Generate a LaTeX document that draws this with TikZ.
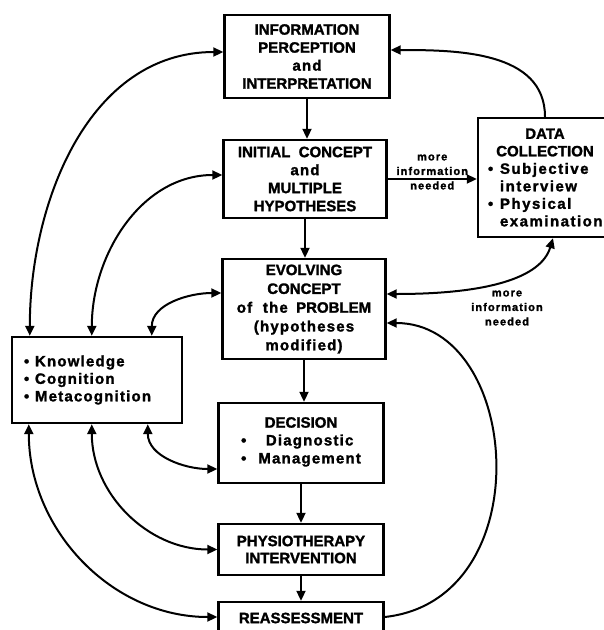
\documentclass[tikz,border=0pt]{standalone}
\usepackage{fontspec}
\setmainfont{Liberation Sans}[BoldFeatures={FakeBold=1.6}]
\newfontfamily\widefont{Liberation Sans}[LetterSpace=8,BoldFeatures={FakeBold=1.6}]
\newfontfamily\widerfont{Liberation Sans}[LetterSpace=10,BoldFeatures={FakeBold=1.6}]
\usetikzlibrary{arrows.meta}
\begin{document}
\begin{tikzpicture}[x=1pt,y=1pt,line cap=butt,line join=miter,
    font=\fontsize{15}{18}\selectfont\bfseries]
  \tikzset{box/.style={draw,line width=2.4pt,align=center,inner sep=0pt},
    link/.style={line width=2pt,-{Triangle[length=10pt,width=9pt]}},
    both/.style={line width=2pt,{Triangle[length=10pt,width=9pt]}-{Triangle[length=10pt,width=9pt]}},
    note/.style={font=\fontsize{11}{14.5}\selectfont\widerfont\bfseries,align=center}}
  \useasboundingbox (0,0) rectangle (604,-630);
  % boxes
  \node[box,minimum width=165pt,minimum height=83pt] (info) at (307,-56.5)
    {INFORMATION\\PERCEPTION\\{\widefont and}\\INTERPRETATION};
  \node[box,minimum width=163pt,minimum height=78pt] (init) at (305,-179)
    {INITIAL\ \ CONCEPT\\{\widefont and}\\MULTIPLE\\HYPOTHESES};
  \node[box,minimum width=163pt,minimum height=100pt,
    font=\fontsize{15}{18.8}\selectfont\bfseries] (evol) at (304,-309)
    {EVOLVING\\CONCEPT\\{\widefont of\ \ the}\ \ PROBLEM\\{\widefont (hypotheses}\\{\widefont modified)}};
  \node[box,minimum width=165pt,minimum height=80pt] (dec) at (301,-443)
    {DECISION\\[4pt]
     \begin{tabular}{@{}l@{\hspace{12pt}}c@{}}
       \textbullet & {\widefont Diagnostic}\\
       \textbullet & {\widefont Management}
     \end{tabular}};
  \node[box,minimum width=165pt,minimum height=51pt,
    font=\fontsize{15}{17}\selectfont\bfseries] (phys) at (301,-549.5)
    {PHYSIOTHERAPY\\INTERVENTION};
  \node[box,minimum width=165pt,minimum height=32pt] (reas) at (301,-618)
    {REASSESSMENT};
  \node[box,minimum width=170pt,minimum height=86pt,text width=146pt,align=left,
    font=\fontsize{15}{17.5}\selectfont\widefont\bfseries] (know) at (97,-380)
    {\makebox[11pt][l]{\textbullet}Knowledge\\
     \makebox[11pt][l]{\textbullet}Cognition\\
     \makebox[11pt][l]{\textbullet}Metacognition};
  \node[box,minimum width=134pt,minimum height=119pt,text width=114pt,align=left,
    font=\fontsize{15}{17.5}\selectfont\bfseries] (data) at (545,-177.5)
    {\makebox[114pt]{DATA}\\\makebox[114pt]{COLLECTION}\\
     \makebox[12pt][l]{\textbullet}{\widerfont Subjective}\\
     \hspace*{12pt}{\widerfont interview}\\
     \makebox[12pt][l]{\textbullet}{\widerfont Physical}\\
     \hspace*{12pt}{\widerfont examination}};
  \node[note] (need) at (507,-308) {more\\information\\needed};
  % main chain
  \foreach \a/\b in {info/init,init/evol,evol/dec,dec/phys,phys/reas}{
      \draw[link] (\a.south) -- (\a.south |- \b.north);}
  \draw[link] (init.east) -- (data.west |- init.east)
    node[note,midway,yshift=7pt]{more\\information\\needed};
  \draw[link] (data.north) to[out=90,in=0] ([yshift=6.5pt]info.east);
  \draw[both] ([xshift=8pt]data.south) .. controls +(-12,-40) and +(100,0) .. ([yshift=15pt]evol.east);
  \draw[link] ([yshift=1pt]reas.east) .. controls +(157,17) and +(135,0) .. ([yshift=-14pt]evol.east);
  % knowledge links
  \foreach \s/\t/\d in {19/info/4.5,81/init/4,141/evol/16}{
      \draw[both] ([xshift=\s pt]know.north west) to[out=90,in=180] ([yshift=\d pt]\t.west);}
  \foreach \s/\t/\d in {137/dec/-26,81/phys/0,18/reas/1}{
      \draw[both] ([xshift=\s pt]know.south west) to[out=-90,in=180] ([yshift=\d pt]\t.west);}
\end{tikzpicture}
\end{document}
